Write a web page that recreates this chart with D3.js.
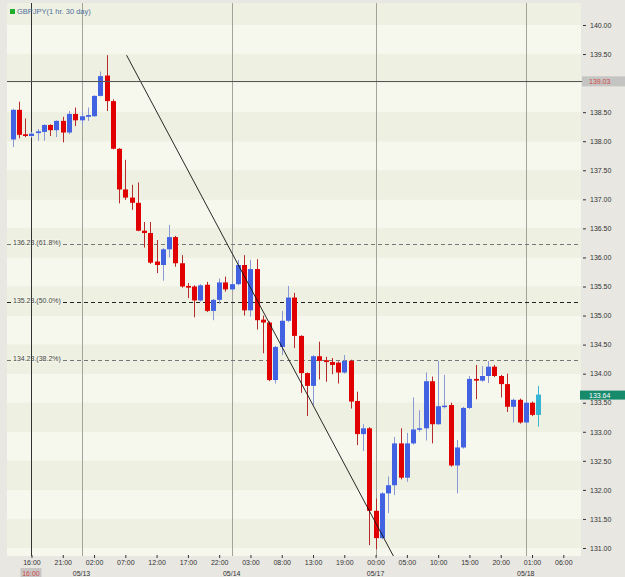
<!DOCTYPE html>
<html>
<head>
<meta charset="utf-8">
<script src="https://cdn.jsdelivr.net/npm/d3@7"></script>
<style>
  body { margin: 0; background: #e9e7e2; }
  svg text { font-family: "Liberation Sans", Arial, sans-serif; }
</style>
</head>
<body>
<svg id="chart" width="625" height="577"></svg>
<script>
// GBPJPY hourly candles
var opens = [138.03, 138.54, 138.12, 138.09, 138.14, 138.16, 138.28, 138.19, 138.35, 138.15,
  138.47, 138.36, 138.42, 138.43, 138.78, 139.13, 138.69, 137.87, 137.17, 137.03,
  136.94, 136.46, 136.42, 135.93, 135.87, 136.14, 136.35, 135.90, 135.51, 135.50,
  135.26, 135.53, 135.08, 135.27, 135.57, 135.45, 135.54, 135.87, 135.09, 135.80,
  134.93, 134.88, 133.89, 134.46, 134.91, 135.31, 134.65, 134.01, 133.79, 134.30,
  134.23, 134.20, 134.19, 134.02, 134.22, 133.53, 132.96, 133.06, 131.64, 131.17,
  131.94, 132.08, 132.80, 132.21, 132.80, 133.04, 133.06, 133.87, 133.13, 133.43,
  133.46, 132.42, 132.73, 133.41, 133.91, 133.88, 133.96, 134.12, 133.96, 133.82,
  133.43, 133.55, 133.16, 133.50, 133.29];
var highs = [138.56, 138.68, 138.39, 138.16, 138.21, 138.29, 138.29, 138.36, 138.42, 138.52,
  138.58, 138.53, 138.58, 138.79, 139.20, 139.48, 138.72, 137.88, 137.68, 137.25,
  137.29, 136.61, 136.61, 136.30, 136.16, 136.56, 136.37, 136.04, 135.56, 135.52,
  135.54, 135.58, 135.29, 135.64, 135.67, 135.56, 135.96, 136.04, 135.96, 135.97,
  135.00, 134.90, 134.48, 135.08, 135.51, 135.39, 134.66, 134.02, 134.32, 134.55,
  134.29, 134.27, 134.21, 134.32, 134.24, 133.69, 133.13, 133.08, 131.85, 131.96,
  132.23, 132.91, 133.06, 132.98, 133.59, 133.37, 134.02, 133.95, 134.22, 133.98,
  133.50, 132.86, 133.43, 133.96, 134.15, 134.13, 134.22, 134.15, 133.98, 134.00,
  133.57, 133.57, 133.52, 133.52, 133.79];
var lows = [137.90, 138.05, 138.07, 138.06, 138.01, 138.01, 138.09, 138.07, 137.98, 138.12,
  138.26, 138.28, 138.35, 138.42, 138.77, 138.52, 137.86, 136.93, 136.99, 136.82,
  136.45, 136.17, 135.89, 135.73, 135.60, 136.00, 135.84, 135.48, 135.30, 134.97,
  135.24, 135.06, 134.92, 135.20, 135.41, 135.43, 135.52, 135.00, 134.98, 134.76,
  134.35, 133.87, 133.83, 134.32, 134.89, 134.44, 133.67, 133.27, 133.46, 133.90,
  133.86, 133.99, 133.83, 134.00, 133.40, 132.77, 132.67, 131.05, 130.98, 131.15,
  131.60, 131.91, 132.18, 132.14, 132.78, 133.00, 132.85, 132.80, 133.12, 133.40,
  132.40, 131.94, 132.71, 133.39, 133.56, 133.86, 133.84, 133.94, 133.59, 133.34,
  133.16, 133.14, 133.14, 133.27, 133.09];
var closes = [138.54, 138.11, 138.09, 138.13, 138.17, 138.28, 138.19, 138.35, 138.15, 138.47,
  138.36, 138.43, 138.45, 138.78, 139.12, 138.69, 137.87, 137.17, 137.03, 136.94,
  136.46, 136.42, 135.91, 135.87, 136.14, 136.35, 135.90, 135.50, 135.48, 135.26,
  135.52, 135.08, 135.27, 135.57, 135.45, 135.54, 135.87, 135.09, 135.80, 134.92,
  134.88, 133.89, 134.46, 134.91, 135.31, 134.65, 134.01, 133.79, 134.30, 134.22,
  134.20, 134.15, 134.02, 134.22, 133.52, 132.96, 133.06, 131.64, 131.17, 131.94,
  132.08, 132.80, 132.21, 132.80, 133.04, 133.06, 133.87, 133.13, 133.44, 133.45,
  132.42, 132.73, 133.41, 133.91, 133.88, 133.96, 134.12, 133.96, 133.82, 133.43,
  133.55, 133.16, 133.50, 133.29, 133.64];

var tickIndex = [3, 8, 13, 18, 23, 28, 33, 38, 43, 48, 53, 58, 63, 68, 73, 78, 83, 88];
var tickLabels = ['16:00', '21:00', '02:00', '07:00', '12:00', '17:00', '22:00', '03:00', '08:00',
  '13:00', '19:00', '00:00', '05:00', '10:00', '15:00', '20:00', '01:00', '06:00'];
var dayIndex = [11, 35, 58, 82];
var dayLabels = ['05/13', '05/14', '05/17', '05/18'];
// 139.00 sits under the crosshair tag, so it is not labelled
var priceTicks = [131, 131.5, 132, 132.5, 133, 133.5, 134, 134.5, 135, 135.5,
  136, 136.5, 137, 137.5, 138, 138.5, 139.5, 140];

var fibValues = [136.23, 135.23, 134.23];
var fibLabels = ['136.23 (61.8%)', '135.23 (50.0%)', '134.23 (38.2%)'];
var trendIdx = [18.2, 60.9];
var trendVal = [139.48, 130.85];
var crossIdx = 3;
var crossVal = 139.03;
var crossTime = '16:00';
var lastPrice = 133.64;
var title = 'GBPJPY(1 hr. 30 day)';

var svg = d3.select('#chart');
var plot = { l: 7, r: 581, t: 3, b: 556 };

var x = d3.scaleLinear().domain([0, 88]).range([12.7, 563.3]);
var y = d3.scaleLinear().domain([131, 140]).range([548, 25]);

svg.append('rect').attr('width', 625).attr('height', 577).attr('fill', '#e9e7e2');

svg.append('clipPath').attr('id', 'plotClip')
  .append('rect')
  .attr('x', plot.l).attr('y', plot.t)
  .attr('width', plot.r - plot.l).attr('height', plot.b - plot.t);

var chartG = svg.append('g').attr('clip-path', 'url(#plotClip)');

// alternating price bands
var bandStarts = d3.range(130, 141, 0.5);
chartG.selectAll('.band')
  .data(bandStarts)
  .enter().append('rect')
  .attr('class', 'band')
  .attr('x', plot.l)
  .attr('width', plot.r - plot.l)
  .attr('y', d => y(d + 0.5))
  .attr('height', d => y(d) - y(d + 0.5))
  .attr('fill', d => d % 1 === 0 ? '#eef1e1' : '#f6f8ee');

// day separators
chartG.selectAll('.daySep')
  .data(dayIndex)
  .enter().append('line')
  .attr('x1', d => Math.round(x(d)) + 0.5)
  .attr('x2', d => Math.round(x(d)) + 0.5)
  .attr('y1', plot.t).attr('y2', plot.b)
  .attr('stroke', '#a3a39c').attr('stroke-width', 1);

// fibonacci levels
var fibG = chartG.selectAll('.fib')
  .data(fibValues)
  .enter().append('g').attr('class', 'fib');
fibG.append('line')
  .attr('x1', plot.l).attr('x2', plot.r)
  .attr('y1', d => Math.round(y(d)) + 0.5)
  .attr('y2', d => Math.round(y(d)) + 0.5)
  .attr('stroke', (d, i) => i === 1 ? '#222' : '#777')
  .attr('stroke-dasharray', '4,3');
fibG.append('text')
  .attr('x', 13)
  .attr('y', d => Math.round(y(d)) + 0.5)
  .attr('dy', '0.05em')
  .attr('font-size', 7)
  .attr('fill', '#444')
  .attr('paint-order', 'stroke')
  .attr('stroke', '#f3f5e8').attr('stroke-width', 2)
  .text((d, i) => fibLabels[i]);

// crosshair
chartG.append('line')
  .attr('x1', Math.round(x(crossIdx)) + 0.5).attr('x2', Math.round(x(crossIdx)) + 0.5)
  .attr('y1', plot.t).attr('y2', plot.b)
  .attr('stroke', '#333');

// candles
var candles = d3.range(opens.length).map(function(i) {
  return { i: i, o: opens[i], h: highs[i], l: lows[i], c: closes[i] };
});
var lastI = candles.length - 1;
function bodyColor(d) {
  if (d.i === lastI) return '#35b4d4';
  return d.c >= d.o ? '#4262e2' : '#e00000';
}
function wickColor(d) {
  if (d.i === lastI) return '#35b4d4';
  return d.c >= d.o ? '#8a98d6' : '#b52a2a';
}
var candleG = chartG.selectAll('.candle')
  .data(candles)
  .enter().append('g').attr('class', 'candle');
candleG.append('line')
  .attr('x1', d => Math.round(x(d.i)) + 0.5)
  .attr('x2', d => Math.round(x(d.i)) + 0.5)
  .attr('y1', d => y(d.h))
  .attr('y2', d => y(d.l))
  .attr('stroke', wickColor);
candleG.append('rect')
  .attr('x', d => Math.round(x(d.i)) - 2)
  .attr('width', 5)
  .attr('y', d => y(Math.max(d.o, d.c)))
  .attr('height', d => Math.max(1.5, Math.abs(y(d.o) - y(d.c))))
  .attr('fill', bodyColor);

// trend line
chartG.append('line')
  .attr('x1', x(trendIdx[0])).attr('y1', y(trendVal[0]))
  .attr('x2', x(trendIdx[1])).attr('y2', y(trendVal[1]))
  .attr('stroke', '#111').attr('stroke-width', 0.9);

// horizontal crosshair
svg.append('line')
  .attr('x1', plot.l).attr('x2', 584)
  .attr('y1', Math.round(y(crossVal)) + 0.5).attr('y2', Math.round(y(crossVal)) + 0.5)
  .attr('stroke', '#555');

// legend
svg.append('rect').attr('x', 10).attr('y', 9).attr('width', 5).attr('height', 5).attr('fill', '#1fae2e');
svg.append('text').attr('x', 17).attr('y', 14).attr('font-size', 7.5).attr('fill', '#4f6f9c').text(title);

// y axis
var yAxis = d3.axisRight(y)
  .tickValues(priceTicks)
  .tickSize(3)
  .tickPadding(4)
  .tickFormat(d3.format('.2f'));
var yAxisG = svg.append('g')
  .attr('transform', 'translate(583,0)')
  .call(yAxis);
yAxisG.select('.domain').remove();
yAxisG.selectAll('line').attr('stroke', '#333');
yAxisG.selectAll('text').attr('font-size', 7).attr('fill', '#333').attr('font-family', '"Liberation Sans", Arial, sans-serif');

// x axis
var xAxis = d3.axisBottom(x)
  .tickValues(tickIndex)
  .tickSize(3)
  .tickPadding(2)
  .tickFormat((d, i) => tickLabels[i]);
var xAxisG = svg.append('g')
  .attr('transform', 'translate(0,' + (plot.b - 1) + ')')
  .call(xAxis);
xAxisG.select('.domain').remove();
xAxisG.selectAll('line').attr('stroke', '#333');
xAxisG.selectAll('text').attr('font-size', 7).attr('fill', '#333').attr('font-family', '"Liberation Sans", Arial, sans-serif');

svg.selectAll('.dayLabel')
  .data(dayIndex)
  .enter().append('text')
  .attr('x', d => x(d))
  .attr('y', 576)
  .attr('text-anchor', 'middle')
  .attr('font-size', 7)
  .attr('fill', '#333')
  .text((d, i) => dayLabels[i]);

// crosshair price tag
var crossY = y(crossVal);
svg.append('rect').attr('x', 582).attr('y', crossY - 5).attr('width', 43).attr('height', 10).attr('fill', '#c4c4c2');
svg.append('text').attr('x', 589).attr('y', crossY + 2.5).attr('font-size', 7).attr('fill', '#d04848')
  .text(d3.format('.2f')(crossVal));

// crosshair time tag
svg.append('rect').attr('x', x(crossIdx) - 11).attr('y', 568).attr('width', 21).attr('height', 9).attr('fill', '#c8c6c4');
svg.append('text').attr('x', x(crossIdx) - 0.5).attr('y', 575.5).attr('text-anchor', 'middle')
  .attr('font-size', 7).attr('fill', '#d04848').text(crossTime);

// last price tag
var lastY = y(lastPrice);
svg.append('rect').attr('x', 580).attr('y', lastY - 4).attr('width', 45).attr('height', 9).attr('fill', '#178a6c');
svg.append('text').attr('x', 589).attr('y', lastY + 3).attr('font-size', 7).attr('fill', '#ffffff')
  .text(d3.format('.2f')(lastPrice));
</script>
</body>
</html>
